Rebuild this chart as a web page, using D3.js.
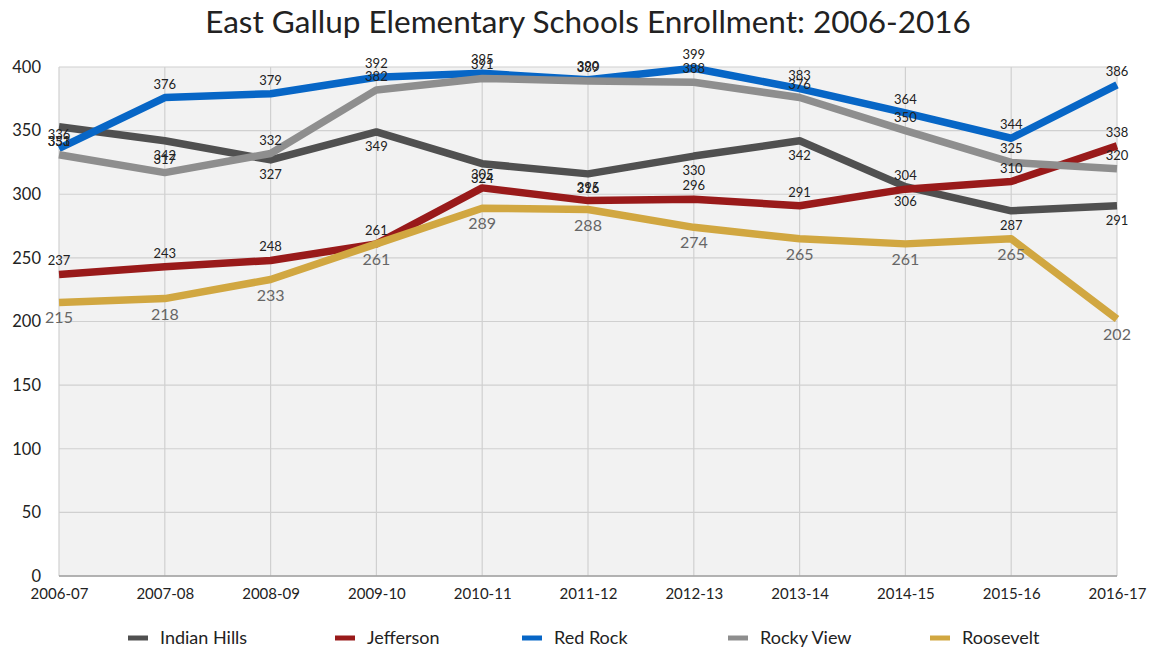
<!DOCTYPE html>
<html><head><meta charset="utf-8">
<script src="https://cdn.jsdelivr.net/npm/d3@7"></script>
<style>body{margin:0;background:#fff;font-family:Lato,"Open Sans",sans-serif;}</style>
</head><body><svg id="c" width="1154" height="650"></svg>
<script>
const categories = ["2006-07","2007-08","2008-09","2009-10","2010-11","2011-12","2012-13","2013-14","2014-15","2015-16","2016-17"];
const indianHills = [353,342,327,349,324,316,330,342,306,287,291];
const jefferson   = [237,243,248,261,305,295,296,291,304,310,338];
const redRock     = [336,376,379,392,395,390,399,383,364,344,386];
const rockyView   = [331,317,332,382,391,389,388,376,350,325,320];
const roosevelt   = [215,218,233,261,289,288,274,265,261,265,202];
const yTicks = [0,50,100,150,200,250,300,350,400];
const seriesNames = ["Indian Hills","Jefferson","Red Rock","Rocky View","Roosevelt"];

const series = [
  {name:seriesNames[0], values:indianHills, color:"#505050", pos:"below", lc:"#222", fs:13},
  {name:seriesNames[1], values:jefferson,   color:"#991a1a", pos:"above", lc:"#222", fs:13},
  {name:seriesNames[2], values:redRock,     color:"#0766c6", pos:"above", lc:"#222", fs:13},
  {name:seriesNames[3], values:rockyView,   color:"#8e8e8e", pos:"above", lc:"#222", fs:13},
  {name:seriesNames[4], values:roosevelt,   color:"#d1a741", pos:"below", lc:"#666", fs:16}
];

const svg = d3.select("#c");
const L=59, R=1117, T=67, B=576;
const x = d3.scalePoint().domain(categories).range([L,R]);
const y = d3.scaleLinear().domain([0,400]).range([B,T]);

svg.append("text").attr("x",588).attr("y",33).attr("text-anchor","middle")
  .attr("font-size",31.5).attr("fill","#222").text("East Gallup Elementary Schools Enrollment: 2006-2016");

svg.append("rect").attr("x",L).attr("y",T).attr("width",R-L).attr("height",B-T).attr("fill","#f2f2f2");

// grid
svg.append("g").selectAll("line").data(yTicks).join("line")
  .attr("x1",L).attr("x2",R).attr("y1",d=>y(d)).attr("y2",d=>y(d))
  .attr("stroke","#d0d0d0").attr("stroke-width",1.2);
svg.append("g").selectAll("line").data(categories).join("line")
  .attr("x1",d=>x(d)).attr("x2",d=>x(d)).attr("y1",T).attr("y2",B)
  .attr("stroke","#d0d0d0").attr("stroke-width",1.2);
svg.append("line").attr("x1",L).attr("x2",R).attr("y1",B).attr("y2",B).attr("stroke","#a0a0a0").attr("stroke-width",1.5);

// axes
const ya = svg.append("g").attr("transform",`translate(${L},0)`)
  .call(d3.axisLeft(y).tickValues(yTicks).tickSize(0).tickPadding(18));
ya.select(".domain").remove();
ya.selectAll("text").attr("font-size",16.5).attr("fill","#222").attr("font-family","Lato,sans-serif");
const xa = svg.append("g").attr("transform",`translate(0,${B})`)
  .call(d3.axisBottom(x).tickSize(0).tickPadding(12));
xa.select(".domain").remove();
xa.selectAll("text").attr("font-size",15).attr("fill","#222").attr("font-family","Lato,sans-serif");

const line = d3.line().x((d,i)=>x(categories[i])).y(d=>y(d));
series.forEach(s=>{
  svg.append("path").datum(s.values).attr("d",line).attr("fill","none")
    .attr("stroke",s.color).attr("stroke-width",7.5).attr("stroke-linejoin","round");
});
series.forEach(s=>{
  svg.append("g").selectAll("text").data(s.values).join("text")
    .attr("x",(d,i)=>x(categories[i]))
    .attr("y",d=> s.pos==="above" ? y(d)-9 : y(d)+ (s.fs>13?21:19))
    .attr("text-anchor","middle").attr("font-size",s.fs).attr("fill",s.lc)
    .text(d=>d);
});

// legend
const lx = [128,335,522,728,930];
const lg = svg.append("g");
series.forEach((s,i)=>{
  lg.append("line").attr("x1",lx[i]).attr("x2",lx[i]+20).attr("y1",638).attr("y2",638)
    .attr("stroke",s.color).attr("stroke-width",5);
  lg.append("text").attr("x",lx[i]+32).attr("y",644).attr("font-size",18).attr("fill","#222").text(s.name);
});
</script></body></html>
